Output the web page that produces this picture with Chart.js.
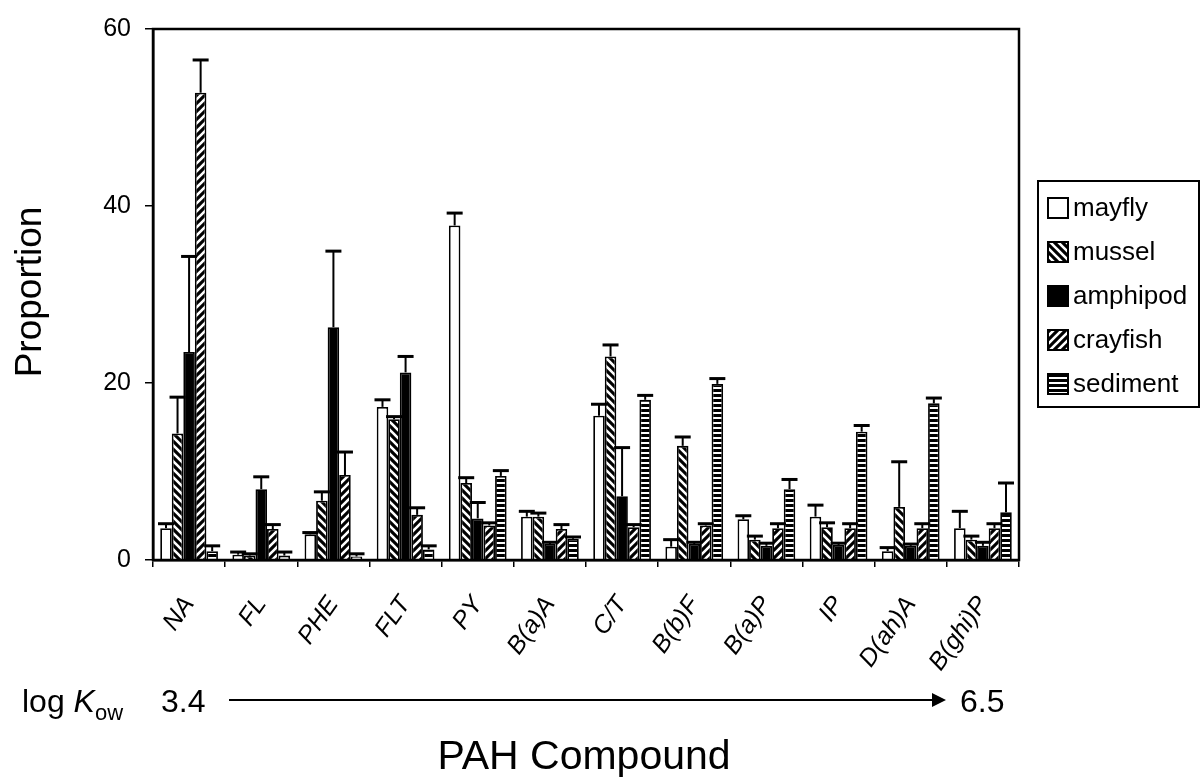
<!DOCTYPE html>
<html>
<head>
<meta charset="utf-8">
<script src="https://cdn.jsdelivr.net/npm/chart.js@4"></script>
<style>
html,body{margin:0;padding:0;background:#fff;}
#wrap{width:1202px;height:784px;position:relative;}
</style>
</head>
<body>
<div id="wrap"><canvas id="c" width="1202" height="784"></canvas></div>
<script>
// ---- data ----
const categories = ['NA','FL','PHE','FLT','PY','B(a)A','C/T','B(b)F','B(a)P','IP','D(ah)A','B(ghi)P'];
const seriesNames = ['mayfly','mussel','amphipod','crayfish','sediment'];
const mayfly      = [3.6, 0.6, 2.9, 17.3, 37.8, 4.9, 16.3, 1.5, 4.6, 4.9, 1.0, 3.6];
const mayflyErr   = [0.5, 0.3, 0.2, 0.8, 1.4, 0.6, 1.3, 0.8, 0.4, 1.3, 0.4, 1.9];
const mussel      = [14.3, 0.5, 6.7, 15.9, 8.7, 4.9, 23.0, 12.9, 2.3, 3.7, 6.0, 2.3];
const musselErr   = [4.1, 0.2, 1.0, 0.3, 0.6, 0.4, 1.3, 1.0, 0.4, 0.5, 5.1, 0.4];
const amphipod    = [23.5, 8.0, 26.3, 21.2, 4.7, 1.8, 7.2, 1.8, 1.6, 1.7, 1.6, 1.6];
const amphipodErr = [10.8, 1.4, 8.6, 1.8, 1.8, 0.2, 5.5, 0.2, 0.3, 0.2, 0.2, 0.4];
const crayfish    = [52.8, 3.5, 9.6, 5.1, 3.9, 3.5, 3.7, 3.9, 3.6, 3.6, 3.6, 3.6];
const crayfishErr = [3.7, 0.5, 2.6, 0.8, 0.3, 0.5, 0.3, 0.2, 0.5, 0.5, 0.5, 0.5];
const sediment    = [1.0, 0.5, 0.4, 1.2, 9.5, 2.4, 18.1, 19.9, 8.0, 14.5, 17.7, 5.4];
const sedimentErr = [0.6, 0.4, 0.3, 0.4, 0.6, 0.2, 0.5, 0.6, 1.1, 0.7, 0.6, 3.3];
const yTicks = [0, 20, 40, 60];
const kowLow = '3.4', kowHigh = '6.5';

const FONT = '"Liberation Sans", Arial, sans-serif';

// ---- patterns ----
function diag(dir){
  const s = 8, c = document.createElement('canvas'); c.width = c.height = s;
  const g = c.getContext('2d');
  g.fillStyle = '#000'; g.fillRect(0,0,s,s);
  g.strokeStyle = '#fff'; g.lineWidth = 2.6; g.lineCap='butt';
  g.beginPath();
  if (dir === 'back') { // "\"
    g.moveTo(0,0); g.lineTo(s,s);
    g.moveTo(-s/2,s/2); g.lineTo(s/2,3*s/2);
    g.moveTo(s/2,-s/2); g.lineTo(3*s/2,s/2);
  } else { // "/"
    g.moveTo(0,s); g.lineTo(s,0);
    g.moveTo(-s/2,s/2); g.lineTo(s/2,-s/2);
    g.moveTo(s/2,3*s/2); g.lineTo(3*s/2,s/2);
  }
  g.stroke();
  return g.createPattern(c,'repeat');
}
function horiz(){
  const c = document.createElement('canvas'); c.width = 4; c.height = 5;
  const g = c.getContext('2d');
  g.fillStyle = '#000'; g.fillRect(0,0,4,5);
  g.fillStyle = '#fff'; g.fillRect(0,2,4,2);
  return g.createPattern(c,'repeat');
}
const fills = ['#ffffff', diag('back'), '#000000', diag('fwd'), horiz()];
const values = [mayfly, mussel, amphipod, crayfish, sediment];
const errs = [mayflyErr, musselErr, amphipodErr, crayfishErr, sedimentErr];

const datasets = seriesNames.map((n,i)=>({
  label: n,
  data: values[i],
  errors: errs[i],
  backgroundColor: fills[i],
  borderColor: '#000',
  borderWidth: 1.8,
  borderSkipped: 'start',
  categoryPercentage: 0.8,
  barPercentage: 1.0
}));

// ---- plugin: error bars, frame, legend, extra text ----
const extras = {
  id: 'extras',
  afterDatasetsDraw(chart){
    const ctx = chart.ctx, y = chart.scales.y, a = chart.chartArea;
    ctx.save();
    ctx.strokeStyle = '#000';
    chart.data.datasets.forEach((ds, di)=>{
      const meta = chart.getDatasetMeta(di);
      meta.data.forEach((bar, k)=>{
        const e = ds.errors[k];
        if (!e) return;
        const top = y.getPixelForValue(ds.data[k] + e);
        ctx.lineWidth = 2;
        ctx.beginPath(); ctx.moveTo(bar.x, bar.y); ctx.lineTo(bar.x, top); ctx.stroke();
        ctx.lineWidth = 3;
        ctx.beginPath(); ctx.moveTo(bar.x - 8, top); ctx.lineTo(bar.x + 8, top); ctx.stroke();
      });
    });
    // frame
    ctx.lineWidth = 2.5;
    ctx.strokeRect(a.left, a.top, a.right - a.left, a.bottom - a.top);
    ctx.restore();
  },
  afterDraw(chart){
    const ctx = chart.ctx;
    ctx.save();
    ctx.fillStyle = '#000'; ctx.strokeStyle = '#000';
    // legend
    const lx = 1038, ly = 181, lw = 161, rowH = 44;
    ctx.lineWidth = 2;
    ctx.strokeRect(lx, ly, lw, rowH * seriesNames.length + 6);
    ctx.font = '26px ' + FONT;
    ctx.textBaseline = 'middle'; ctx.textAlign = 'left';
    chart.data.datasets.forEach((ds, i)=>{
      const cy = ly + 27 + i * rowH;
      ctx.fillStyle = ds.backgroundColor;
      ctx.fillRect(lx + 10, cy - 10, 20, 20);
      ctx.lineWidth = 2; ctx.strokeStyle = '#000';
      ctx.strokeRect(lx + 10, cy - 10, 20, 20);
      ctx.fillStyle = '#000';
      ctx.fillText(ds.label, lx + 35, cy + 1);
    });
    // y title
    ctx.save();
    ctx.translate(31, 292);
    ctx.rotate(-Math.PI/2);
    ctx.textAlign = 'center'; ctx.textBaseline = 'middle';
    ctx.font = '37px ' + FONT;
    ctx.fillText('Proportion', 0, 0);
    ctx.restore();
    // log Kow row
    const ry = 700;
    ctx.textBaseline = 'alphabetic'; ctx.textAlign = 'left';
    ctx.font = '32px ' + FONT;
    ctx.fillText('log ', 22, ry + 12);
    let w = ctx.measureText('log ').width;
    ctx.font = 'italic 32px ' + FONT;
    ctx.fillText('K', 22 + w, ry + 12);
    w += ctx.measureText('K').width;
    ctx.font = '22px ' + FONT;
    ctx.fillText('ow', 22 + w, ry + 20);
    ctx.font = '32px ' + FONT;
    ctx.fillText(kowLow, 161, ry + 12);
    ctx.fillText(kowHigh, 960, ry + 12);
    ctx.lineWidth = 2;
    ctx.beginPath(); ctx.moveTo(229, ry); ctx.lineTo(934, ry); ctx.stroke();
    ctx.beginPath(); ctx.moveTo(946, ry); ctx.lineTo(932, ry - 7); ctx.lineTo(932, ry + 7); ctx.closePath(); ctx.fill();
    // x title
    ctx.textAlign = 'center'; ctx.textBaseline = 'middle';
    ctx.font = '41px ' + FONT;
    ctx.fillText('PAH Compound', 584, 758);
    ctx.restore();
  }
};

new Chart(document.getElementById('c'), {
  type: 'bar',
  data: { labels: categories, datasets },
  options: {
    responsive: false,
    animation: false,
    devicePixelRatio: 1,
    layout: { padding: { top: 23, right: 183, left: 0, bottom: 0 } },
    plugins: { legend: { display: false }, tooltip: { enabled: false } },
    scales: {
      x: {
        offset: true,
        grid: { offset: true, drawOnChartArea: false, color: '#000', tickLength: 7, lineWidth: 1.5 },
        border: { display: true, color: '#000', width: 2.5 },
        ticks: { color: '#000', minRotation: 55, maxRotation: 55, padding: 24,
                 font: { family: FONT, size: 25, style: 'italic' } },
        afterFit(s){ s.height = 224; }
      },
      y: {
        min: 0, max: 60,
        afterBuildTicks(s){ s.ticks = yTicks.map(v=>({value:v})); },
        grid: { drawOnChartArea: false, color: '#000', tickLength: 8, lineWidth: 1.5 },
        border: { display: true, color: '#000', width: 2.5 },
        ticks: { color: '#000', padding: 14, font: { family: FONT, size: 25 } },
        afterFit(s){ s.width = 153; }
      }
    }
  },
  plugins: [extras]
});
</script>
</body>
</html>
